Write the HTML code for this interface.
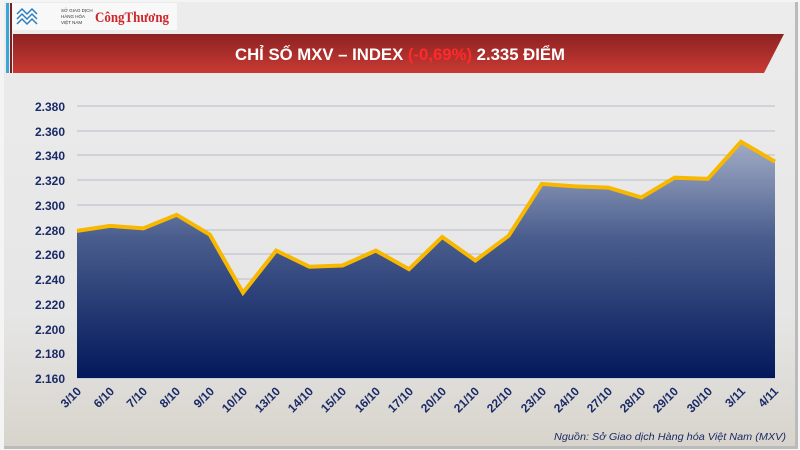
<!DOCTYPE html>
<html><head><meta charset="utf-8"><style>
html,body{margin:0;padding:0;}
body{width:800px;height:450px;overflow:hidden;background:#fff;font-family:"Liberation Sans","Noto Sans CJK SC",sans-serif;}
</style></head><body>
<svg width="800" height="450" viewBox="0 0 800 450" xmlns="http://www.w3.org/2000/svg" style="display:block">
<defs>
<linearGradient id="bg" x1="0" y1="0" x2="0" y2="1">
<stop offset="0" stop-color="#ececec"/><stop offset="0.7" stop-color="#e6e6e6"/><stop offset="1" stop-color="#d8d4cc"/>
</linearGradient>
<linearGradient id="fill" x1="0" y1="0" x2="0" y2="1">
<stop offset="0" stop-color="#98a4c0" stop-opacity="0.9"/><stop offset="0.4" stop-color="#4a5e8e"/><stop offset="1" stop-color="#02185a"/>
</linearGradient>
<linearGradient id="red" x1="0" y1="0" x2="0" y2="1">
<stop offset="0" stop-color="#8c2222"/><stop offset="1" stop-color="#c93a34"/>
</linearGradient>
</defs>
<rect x="0" y="0" width="800" height="450" fill="#f4f4f4"/>
<rect x="4" y="2" width="791" height="444" fill="url(#bg)"/>
<rect x="795" y="2" width="3" height="446" fill="#bbb"/>
<rect x="4" y="446" width="794" height="3" fill="#bbb"/>
<rect x="12" y="3" width="165" height="27" fill="#f8f8f8"/>
<rect x="6" y="3" width="3" height="70" fill="#3aa6d8"/>
<rect x="10" y="3" width="2" height="70" fill="#7a2020"/>
<g fill="none" stroke="#2a7fc0" stroke-width="1.5">
<path d="M17 14 l5 -5 l5 5 l5 -5 l5 5"/><path d="M17 19 l5 -5 l5 5 l5 -5 l5 5"/><path d="M17 24 l5 -5 l5 5 l5 -5 l5 5"/>
</g>
<text x="61" y="12" font-size="4.5" fill="#333">SỞ GIAO DỊCH</text>
<text x="61" y="18" font-size="4.5" fill="#333">HÀNG HÓA</text>
<text x="61" y="24" font-size="4.5" fill="#333">VIỆT NAM</text>
<text x="95" y="22" font-size="15" font-weight="bold" fill="#d0262a" font-family="Liberation Serif,serif" textLength="74" lengthAdjust="spacingAndGlyphs">CôngThương</text>
<polygon points="13,34 784,34 764,73 13,73" fill="url(#red)"/>
<text x="400" y="60" text-anchor="middle" font-size="17" font-weight="bold" fill="#fff" textLength="330" lengthAdjust="spacingAndGlyphs">CHỈ SỐ MXV – INDEX <tspan fill="#ff2a2a">(-0,69%)</tspan> 2.335 ĐIỂM</text>
<g stroke="#b8bccc" stroke-width="1">
<line x1="77" y1="106" x2="775" y2="106"/><line x1="77" y1="131" x2="775" y2="131"/><line x1="77" y1="155" x2="775" y2="155"/><line x1="77" y1="180" x2="775" y2="180"/><line x1="77" y1="205" x2="775" y2="205"/><line x1="77" y1="230" x2="775" y2="230"/><line x1="77" y1="254" x2="775" y2="254"/><line x1="77" y1="279" x2="775" y2="279"/><line x1="77" y1="304" x2="775" y2="304"/><line x1="77" y1="329" x2="775" y2="329"/><line x1="77" y1="353" x2="775" y2="353"/>
</g>
<g font-size="12" font-weight="bold" fill="#1a2a66" text-anchor="end">
<text x="65" y="111">2.380</text><text x="65" y="136">2.360</text><text x="65" y="160">2.340</text><text x="65" y="185">2.320</text><text x="65" y="210">2.300</text><text x="65" y="235">2.280</text><text x="65" y="259">2.260</text><text x="65" y="284">2.240</text><text x="65" y="309">2.220</text><text x="65" y="334">2.200</text><text x="65" y="358">2.180</text><text x="65" y="383">2.160</text>
</g>
<polygon fill="url(#fill)" points="77,378 77,230.9 110.2,225.9 143.4,228.4 176.6,214.8 209.8,234.6 243,292.7 276.2,250.6 309.4,266.7 342.6,265.5 375.8,250.6 409,269.2 442.2,237 475.4,260.5 508.6,235.8 541.8,183.9 575,186.4 608.2,187.6 641.4,197.5 674.6,177.7 707.8,178.9 741,141.8 775,161.6 775,378"/>
<polyline fill="none" stroke="#f8b800" stroke-width="4" stroke-linejoin="miter" points="77,230.9 110.2,225.9 143.4,228.4 176.6,214.8 209.8,234.6 243,292.7 276.2,250.6 309.4,266.7 342.6,265.5 375.8,250.6 409,269.2 442.2,237 475.4,260.5 508.6,235.8 541.8,183.9 575,186.4 608.2,187.6 641.4,197.5 674.6,177.7 707.8,178.9 741,141.8 775,161.6"/>
<line x1="77" y1="378.5" x2="775" y2="378.5" stroke="#c8ccd8" stroke-width="1"/>
<g font-size="12" font-weight="bold" fill="#1a2a66" text-anchor="end">
<text transform="translate(82,392) rotate(-45)">3/10</text>
<text transform="translate(115,392) rotate(-45)">6/10</text>
<text transform="translate(148,392) rotate(-45)">7/10</text>
<text transform="translate(181,392) rotate(-45)">8/10</text>
<text transform="translate(215,392) rotate(-45)">9/10</text>
<text transform="translate(248,392) rotate(-45)">10/10</text>
<text transform="translate(281,392) rotate(-45)">13/10</text>
<text transform="translate(314,392) rotate(-45)">14/10</text>
<text transform="translate(347,392) rotate(-45)">15/10</text>
<text transform="translate(381,392) rotate(-45)">16/10</text>
<text transform="translate(414,392) rotate(-45)">17/10</text>
<text transform="translate(447,392) rotate(-45)">20/10</text>
<text transform="translate(480,392) rotate(-45)">21/10</text>
<text transform="translate(513,392) rotate(-45)">22/10</text>
<text transform="translate(547,392) rotate(-45)">23/10</text>
<text transform="translate(580,392) rotate(-45)">24/10</text>
<text transform="translate(613,392) rotate(-45)">27/10</text>
<text transform="translate(646,392) rotate(-45)">28/10</text>
<text transform="translate(679,392) rotate(-45)">29/10</text>
<text transform="translate(713,392) rotate(-45)">30/10</text>
<text transform="translate(746,392) rotate(-45)">3/11</text>
<text transform="translate(779,392) rotate(-45)">4/11</text>
</g>
<text x="786" y="440" text-anchor="end" font-size="10.5" font-style="italic" fill="#1a2a66" textLength="232" lengthAdjust="spacingAndGlyphs">Nguồn: Sở Giao dịch Hàng hóa Việt Nam (MXV)</text>
</svg>
</body></html>
